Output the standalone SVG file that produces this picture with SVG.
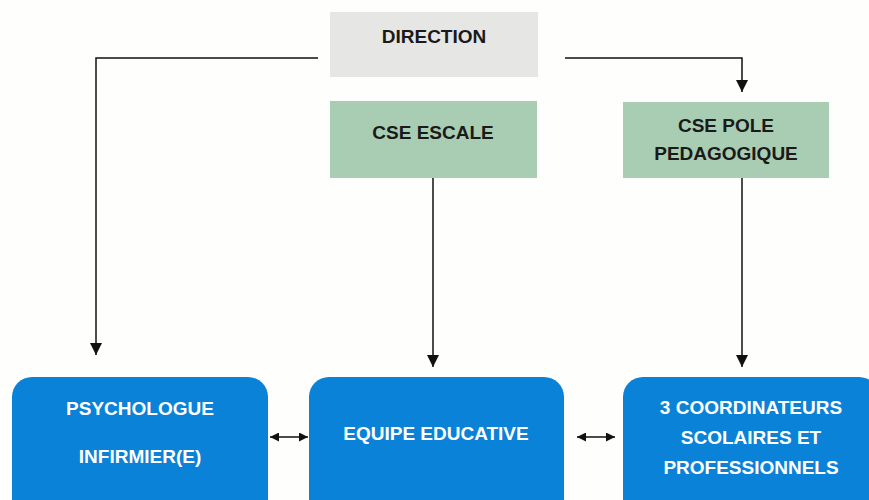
<svg xmlns="http://www.w3.org/2000/svg" width="869" height="500" viewBox="0 0 869 500">
  <style>
    .lbl { font-family: "Liberation Sans", Arial, sans-serif; font-weight: bold; font-size: 19px; text-anchor: middle; }
    .dark { fill: #1a1a1a; }
    .light { fill: #ffffff; }
    .top { fill: #e6e6e4; }
    .cse { fill: #a8cdb3; }
    .team { fill: #0a82d8; }
    .wire { fill: none; stroke: #111111; stroke-width: 1.5; }
  </style>
  <defs>
    <marker id="tip" viewBox="0 0 10 10" refX="10" refY="5" markerWidth="12" markerHeight="12" markerUnits="userSpaceOnUse" orient="auto-start-reverse">
      <path d="M0,0 L10,5 L0,10 Z" fill="#111111"/>
    </marker>
    <marker id="tip-sm" viewBox="0 0 10 10" refX="10" refY="5" markerWidth="10" markerHeight="9" markerUnits="userSpaceOnUse" orient="auto-start-reverse">
      <path d="M0,0 L10,5 L0,10 Z" fill="#111111"/>
    </marker>
  </defs>
  <rect width="869" height="500" fill="#fefefc"/>

  <g id="connectors">
    <polyline class="wire" points="318,58 96,58 96,355" marker-end="url(#tip)"/>
    <polyline class="wire" points="565,58 742,58 742,92" marker-end="url(#tip)"/>
    <line class="wire" x1="433" y1="178" x2="433" y2="367" marker-end="url(#tip)"/>
    <line class="wire" x1="742" y1="178" x2="742" y2="367" marker-end="url(#tip)"/>
    <line class="wire" x1="270" y1="437" x2="308" y2="437" marker-start="url(#tip-sm)" marker-end="url(#tip-sm)"/>
    <line class="wire" x1="577" y1="437" x2="615" y2="437" marker-start="url(#tip-sm)" marker-end="url(#tip-sm)"/>
  </g>

  <g id="direction">
    <rect class="top" x="330" y="12" width="208" height="65"/>
    <text class="lbl dark" x="434" y="43">DIRECTION</text>
  </g>

  <g id="cse-escale">
    <rect class="cse" x="330" y="101" width="207" height="77"/>
    <text class="lbl dark" x="433" y="139">CSE ESCALE</text>
  </g>

  <g id="cse-pole">
    <rect class="cse" x="623" y="102" width="206" height="76"/>
    <text class="lbl dark" x="726" y="132">CSE POLE</text>
    <text class="lbl dark" x="726" y="160">PEDAGOGIQUE</text>
  </g>

  <g id="psychologue">
    <rect class="team" x="12" y="377" width="256" height="150" rx="20"/>
    <text class="lbl light" x="140" y="415">PSYCHOLOGUE</text>
    <text class="lbl light" x="140" y="463">INFIRMIER(E)</text>
  </g>

  <g id="equipe">
    <rect class="team" x="309" y="377" width="255" height="150" rx="20"/>
    <text class="lbl light" x="436" y="440">EQUIPE EDUCATIVE</text>
  </g>

  <g id="coordinateurs">
    <rect class="team" x="623" y="377" width="256" height="150" rx="20"/>
    <text class="lbl light" x="751" y="414">3 COORDINATEURS</text>
    <text class="lbl light" x="751" y="444">SCOLAIRES ET</text>
    <text class="lbl light" x="751" y="474">PROFESSIONNELS</text>
  </g>
</svg>
